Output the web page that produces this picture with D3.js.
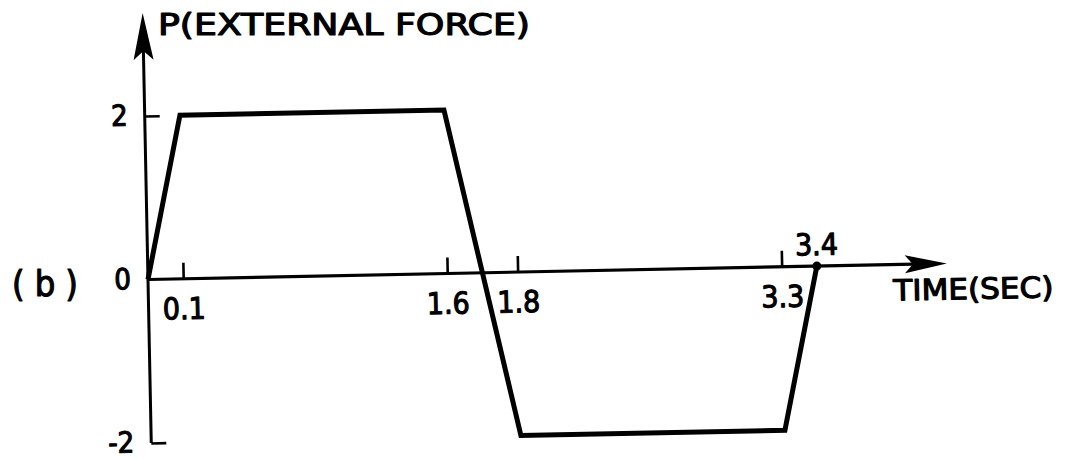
<!DOCTYPE html>
<html>
<head>
<meta charset="utf-8">
<script src="https://cdn.jsdelivr.net/npm/d3@7"></script>
<style>
  body { margin: 0; background: #fff; }
  svg { display: block; background: #fff; }
  .lettering { font-family: "DejaVu Sans Condensed", "DejaVu Sans", sans-serif; fill: #000;
               stroke: #000; stroke-width: 1.1px; stroke-linejoin: round; }
</style>
</head>
<body>
<svg id="chart" width="1081" height="460"></svg>
<script>
// Force pulse P(t): ramp up, hold, reverse, hold, ramp back to zero
const timeSec = [0, 0.1, 1.6, 1.8, 3.3, 3.4];
const force   = [0, 2, 2, -2, -2, 0];

const xTickValues = [0.1, 1.6, 1.8, 3.3];
const xTickLabels = ["0.1", "1.6", "1.8", "3.3"];
const yTickValues = [-2, 0, 2];
const yTickLabels = ["-2", "0", "2"];
const endTime = 3.4;
const endLabel = "3.4";

const yTitle = "P(EXTERNAL FORCE)";
const xTitle = "TIME(SEC)";
const panelTag = "(b)";

// ---- layout ----
const W = 1081, H = 460;
const origin = { x: 148, y: 280 };
const tilt = -1.15;              // the whole sketch sits slightly tilted
const plotW = 669;               // span from t = 0 to t = 3.4
const xArrowTip = 799, yArrowTip = -267;
const rampStretch = 2;           // rise/fall segments are drawn wider than to scale
const labelSize = 30;

// Piecewise time scale: intervals where the force changes are stretched
const weights = timeSec.slice(1).map((t, i) =>
  (t - timeSec[i]) * (force[i + 1] !== force[i] ? rampStretch : 1));
const total = d3.sum(weights);
const cum = Array.from(d3.cumsum(weights));
const x = d3.scaleLinear()
  .domain(timeSec)
  .range([0, ...cum.map(c => c / total * plotW)]);

const y = d3.scaleLinear().domain([-2, 2]).range([163, -164]);

const svg = d3.select("#chart");
svg.append("rect").attr("width", W).attr("height", H).attr("fill", "#fff");

const g = svg.append("g")
  .attr("transform", `translate(${origin.x},${origin.y}) rotate(${tilt})`);

// x axis line with arrowhead
g.append("line")
  .attr("x1", 0).attr("y1", y(0)).attr("x2", xArrowTip - 20).attr("y2", y(0))
  .attr("stroke", "#000").attr("stroke-width", 3.2);
g.append("path")
  .attr("d", `M${xArrowTip},${y(0)} L${xArrowTip - 42},${y(0) - 9} L${xArrowTip - 34},${y(0)} L${xArrowTip - 42},${y(0) + 9} Z`)
  .attr("fill", "#000");

// y axis line with arrowhead
g.append("line")
  .attr("x1", 0).attr("y1", y(-2)).attr("x2", 0).attr("y2", yArrowTip + 20)
  .attr("stroke", "#000").attr("stroke-width", 3);
g.append("path")
  .attr("d", `M0,${yArrowTip} L-10,${yArrowTip + 47} L0,${yArrowTip + 38} L10,${yArrowTip + 47} Z`)
  .attr("fill", "#000");

// x ticks (pointing up) with labels below
const xAxis = d3.axisBottom(x)
  .tickValues(xTickValues)
  .tickFormat((d, i) => xTickLabels[i])
  .tickSizeInner(-16).tickSizeOuter(0).tickPadding(19);
const gx = g.append("g").attr("transform", `translate(0,${y(0)})`).call(xAxis);
gx.select(".domain").remove();
gx.selectAll(".tick line").attr("stroke", "#000").attr("stroke-width", 2.6);
gx.selectAll(".tick text")
  .attr("class", "lettering").attr("font-size", labelSize).attr("fill", "#000");

// y ticks (pointing right) with labels at left
const yAxis = d3.axisLeft(y)
  .tickValues(yTickValues)
  .tickFormat((d, i) => yTickLabels[i])
  .tickSizeInner(-15).tickSizeOuter(0).tickPadding(17);
const gy = g.append("g").call(yAxis);
gy.select(".domain").remove();
gy.selectAll(".tick line")
  .attr("stroke", "#000").attr("stroke-width", 2.6)
  .attr("display", d => d === 0 ? "none" : null);
gy.selectAll(".tick text")
  .attr("class", "lettering").attr("font-size", labelSize - 1).attr("fill", "#000")
  .attr("dy", "0.3em");

// force history
const line = d3.line().x((d, i) => x(timeSec[i])).y(d => y(d));
g.append("path")
  .datum(force)
  .attr("d", line)
  .attr("fill", "none").attr("stroke", "#000")
  .attr("stroke-width", 5).attr("stroke-linejoin", "miter");

// end-of-pulse marker and label
g.append("circle")
  .attr("cx", x(endTime)).attr("cy", y(0)).attr("r", 4.5)
  .attr("fill", "#000");
g.append("text")
  .attr("class", "lettering")
  .attr("x", x(endTime)).attr("y", y(0) - 11)
  .attr("text-anchor", "middle").attr("font-size", labelSize)
  .text(endLabel);

// axis titles
g.append("text")
  .attr("class", "lettering")
  .attr("x", xArrowTip - 54).attr("y", y(0) + 36)
  .attr("font-size", 29)
  .attr("textLength", 160).attr("lengthAdjust", "spacingAndGlyphs")
  .text(xTitle);

svg.append("text")
  .attr("class", "lettering")
  .attr("x", origin.x + 10).attr("y", 35)
  .attr("font-size", 30)
  .attr("textLength", 372).attr("lengthAdjust", "spacingAndGlyphs")
  .text(yTitle);

// panel tag
svg.append("text")
  .attr("class", "lettering")
  .attr("x", 12).attr("y", 296)
  .attr("font-size", 36)
  .attr("textLength", 66).attr("lengthAdjust", "spacing")
  .text(panelTag);
</script>
</body>
</html>
